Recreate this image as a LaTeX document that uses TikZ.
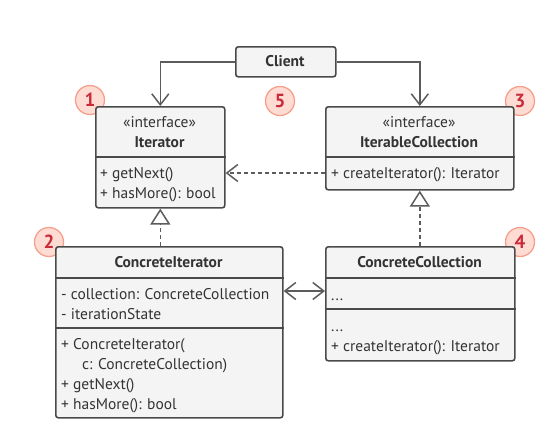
\documentclass[tikz,border=0pt]{standalone}
\usepackage{fontspec}
\setmainfont{PT Sans}
\usetikzlibrary{arrows.meta}
\definecolor{linec}{HTML}{4A4A4A}
\definecolor{boxfill}{HTML}{F4F4F4}
\definecolor{textc}{HTML}{333333}
\definecolor{numfill}{HTML}{FFDCD3}
\definecolor{numdraw}{HTML}{F5A08C}
\definecolor{numtext}{HTML}{C92A3A}
\tikzset{
  classbox/.style={draw=linec, fill=boxfill, line width=1.6pt, rounded corners=2.5pt, anchor=north west, inner sep=0pt},
  sep/.style={draw=linec, line width=1.6pt},
  txt/.style={anchor=base west, inner sep=0pt, text=textc, font=\fontsize{15.5}{18}\selectfont},
  ctxt/.style={anchor=base, inner sep=0pt, text=textc, font=\fontsize{15.5}{18}\selectfont},
  btxt/.style={anchor=base, inner sep=0pt, text=textc, font=\fontsize{15.5}{18}\selectfont\bfseries},
  num/.style={circle, draw=numdraw, fill=numfill, line width=1.3pt, minimum size=29pt, inner sep=0pt, text=numtext, font=\fontsize{19}{20}\selectfont\bfseries},
  conn/.style={draw=linec!90, line width=1.5pt},
  arr/.style={conn, -{Straight Barb[length=11pt,width=17pt,line width=1.5pt]}},
  darr/.style={conn, dash pattern=on 4pt off 3pt, -{Straight Barb[length=11pt,width=17pt,line width=1.5pt]}},
  real/.style={conn, dash pattern=on 4pt off 3pt, -{Triangle[open,length=16pt,width=20pt,line width=1.5pt,fill=white]}},
  biarr/.style={conn, {Straight Barb[length=11pt,width=17pt,line width=1.5pt]}-{Straight Barb[length=11pt,width=17pt,line width=1.5pt]}},
}
\begin{document}
\begin{tikzpicture}[x=1pt,y=-1pt]
\useasboundingbox (0,0) rectangle (548,437);
% number badges (behind boxes)
\node[num] (n1) at (90,100) {1};
\node[num] (n5) at (280,101) {5};
\node[num] (n3) at (520,101) {3};
\node[num] (n2) at (49,242) {2};
\node[num] (n4) at (520,242) {4};
% Client
\node[classbox, minimum width=100pt, minimum height=30pt] (client) at (235,46) {};
\node[btxt] (clientT) at (285,66) {Client};
% Iterator
\node[classbox, minimum width=129pt, minimum height=101pt] (iter) at (95,106) {};
\draw[sep] (iter.west |- 0,157) -- (iter.east |- 0,157);
\node[ctxt] (iterS) at (159.5,127) {«interface»};
\node[btxt] (iterN) at (159.5,147) {Iterator};
\node[txt] (iterM1) at (100,178) {+ getNext()};
\node[txt] (iterM2) at (100,198) {+ hasMore(): bool};
% IterableCollection
\node[classbox, minimum width=188pt, minimum height=83pt] (icoll) at (325,106) {};
\draw[sep] (icoll.west |- 0,157) -- (icoll.east |- 0,157);
\node[ctxt] (icollS) at (419,127) {«interface»};
\node[btxt] (icollN) at (419,147) {IterableCollection};
\node[txt] (icollM1) at (331,178) {+ createIterator(): Iterator};
% ConcreteIterator
\node[classbox, minimum width=227pt, minimum height=171pt] (citer) at (55,246) {};
\draw[sep] (citer.west |- 0,278) -- (citer.east |- 0,278);
\draw[sep] (citer.west |- 0,328) -- (citer.east |- 0,328);
\node[btxt] (citerN) at (168.5,267) {ConcreteIterator};
\node[txt] (citerF1) at (61,299) {- collection: ConcreteCollection};
\node[txt] (citerF2) at (61,319) {- iterationState};
\node[txt] (citerM1) at (61,349) {+ ConcreteIterator(};
\node[txt] (citerM1b) at (82,369) {c: ConcreteCollection)};
\node[txt] (citerM2) at (61,389) {+ getNext()};
\node[txt] (citerM3) at (61,409) {+ hasMore(): bool};
% ConcreteCollection
\node[classbox, minimum width=189pt, minimum height=114pt] (ccoll) at (325,246) {};
\draw[sep] (ccoll.west |- 0,278) -- (ccoll.east |- 0,278);
\draw[sep] (ccoll.west |- 0,309) -- (ccoll.east |- 0,309);
\node[btxt] (ccollN) at (419.5,267) {ConcreteCollection};
\node[txt] (ccollF1) at (331,300) {...};
\node[txt] (ccollM1) at (331,331) {...};
\node[txt] (ccollM2) at (331,351) {+ createIterator(): Iterator};
% connectors
\draw[arr] (client.west) -| (iter.north);
\draw[arr] (client.east) -| (icoll.north);
\draw[darr] (icoll.west |- 0,173) -- (iter.east |- 0,173);
\draw[real] (iter.south |- citer.north) -- (iter.south);
\draw[real] (icoll.south |- ccoll.north) -- (icoll.south);
\draw[biarr] (citer.east |- 0,291) -- (ccoll.west |- 0,291);
\end{tikzpicture}
\end{document}
